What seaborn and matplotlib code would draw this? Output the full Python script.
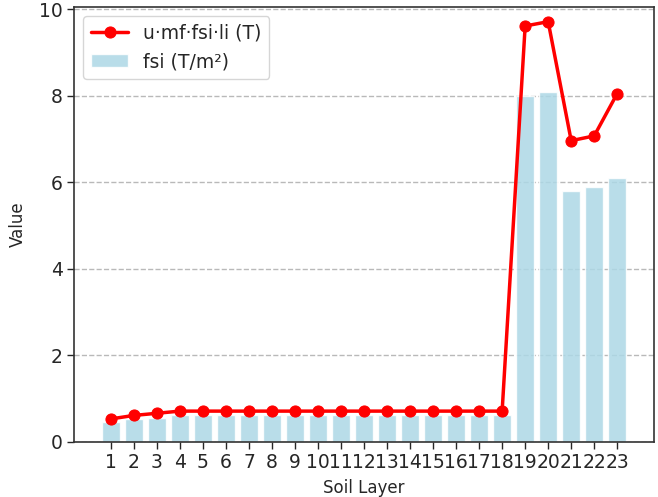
import numpy as np
import pandas as pd
import matplotlib
matplotlib.use("Agg")
import matplotlib.pyplot as plt
import seaborn as sns

# data
layers = [str(i) for i in range(1, 24)]
fsi = [0.46, 0.52, 0.56, 0.62, 0.62, 0.62, 0.62, 0.62, 0.62, 0.62, 0.62, 0.62,
       0.62, 0.62, 0.62, 0.62, 0.62, 0.62, 8.00, 8.08, 5.80, 5.89, 6.09]
force = [0.53, 0.61, 0.66, 0.71, 0.71, 0.71, 0.71, 0.71, 0.71, 0.71, 0.71, 0.71,
         0.71, 0.71, 0.71, 0.71, 0.71, 0.71, 9.61, 9.71, 6.96, 7.07, 8.05]

df = pd.DataFrame({"layer": layers, "fsi": fsi, "force": force})

sns.set_style("white")
plt.rcParams["font.family"] = ["DejaVu Sans"]

fig, ax = plt.subplots(figsize=(6.58, 4.97), dpi=100)
fig.subplots_adjust(left=0.1125, right=0.994, top=0.986, bottom=0.111)

sns.barplot(data=df, x="layer", y="fsi", color="lightblue", saturation=1,
            alpha=0.85, width=0.8, label="fsi (T/m²)", ax=ax, zorder=2)
sns.lineplot(x=np.arange(len(layers)), y=df["force"], color="red", linewidth=2.5,
             marker="o", markersize=8, markeredgecolor="red",
             label="u·mf·fsi·li (T)", ax=ax, zorder=3)

ax.set_xlim(-1.6, 23.6)
ax.set_ylim(0, 10.05)
ax.set_yticks([0, 2, 4, 6, 8, 10])
ax.yaxis.grid(True, linestyle="--", color="gray", alpha=0.55, linewidth=1)
ax.set_axisbelow(True)
ax.tick_params(axis="both", labelsize=13.5, length=5, width=1, direction="out",
               bottom=True, left=True, pad=3)
for s in ax.spines.values():
    s.set_color("#333333")
    s.set_linewidth(1.2)
ax.set_xlabel("Soil Layer", fontsize=12, labelpad=5)
ax.set_ylabel("Value", fontsize=12, labelpad=9)

h, l = ax.get_legend_handles_labels()
order = [l.index("u·mf·fsi·li (T)"), l.index("fsi (T/m²)")]
ax.legend([h[i] for i in order], [l[i] for i in order], loc="upper left",
          fontsize=13.5, frameon=True)

fig.savefig("out.png", dpi=100)
